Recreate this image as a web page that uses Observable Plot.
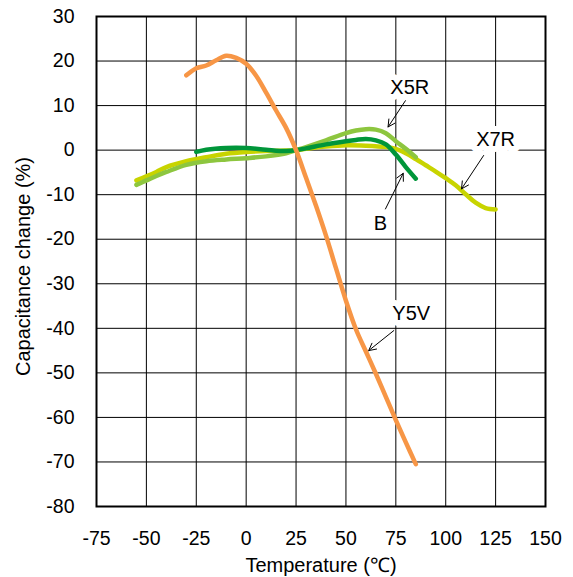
<!DOCTYPE html>
<html>
<head>
<meta charset="utf-8">
<script src="https://cdn.jsdelivr.net/npm/d3@7"></script>
<script src="https://cdn.jsdelivr.net/npm/@observablehq/plot@0.6"></script>
<style>
html, body { margin: 0; padding: 0; background: #fff; }
</style>
</head>
<body>
<div id="chart"></div>
<script>
// Axis ticks
const xTicks = [-75, -50, -25, 0, 25, 50, 75, 100, 125, 150];
const yTicks = [-80, -70, -60, -50, -40, -30, -20, -10, 0, 10, 20, 30];

// Series: temperature (°C) and capacitance change (%)
const x7rTemp = [-55, -50, -45, -40, -30, -20, -10, 0, 10, 20, 25, 30, 40, 50, 60, 70, 75, 80, 85, 90, 95, 100, 105, 110, 115, 120, 125];
const x7rCap  = [-6.8, -5.9, -4.9, -3.8, -2.5, -1.6, -0.8, -0.4, -0.2, -0.1, 0, 0.3, 0.8, 1.1, 1.0, 0.7, 0.3, -0.7, -2.0, -3.4, -4.8, -6.3, -7.9, -9.9, -11.8, -13.0, -13.3];

const x5rTemp = [-55, -50, -45, -40, -30, -20, -10, 0, 10, 20, 25, 30, 40, 50, 55, 60, 65, 70, 75, 80, 85];
const x5rCap  = [-7.8, -6.8, -5.8, -4.9, -3.3, -2.5, -2.1, -1.8, -1.4, -0.7, 0, 0.7, 2.2, 3.8, 4.4, 4.7, 4.6, 3.8, 2.0, 0.3, -1.6];

const bTemp = [-25, -20, -10, 0, 10, 20, 25, 30, 40, 50, 55, 60, 65, 70, 75, 80, 85];
const bCap  = [-0.4, 0.1, 0.5, 0.5, 0.1, -0.2, 0, 0.4, 1.3, 2.0, 2.3, 2.5, 2.2, 1.3, -1.0, -3.8, -6.4];

const y5vTemp = [-30, -25, -20, -15, -10, -5, 0, 5, 10, 15, 20, 25, 30, 35, 40, 45, 50, 55, 60, 65, 70, 75, 80, 85];
const y5vCap  = [16.8, 18.4, 19.0, 20.2, 21.2, 20.7, 19.4, 16.7, 12.9, 8.9, 5.0, 0, -6.2, -12.5, -19.2, -26.5, -33.8, -40.2, -45.2, -50.2, -55.4, -60.6, -65.6, -70.5];

// Series names and colours (drawing order)
const seriesNames  = ["X7R", "X5R", "B", "Y5V"];
const seriesColors = ["#C8D400", "#8DC63F", "#00963A", "#F79646"];

// Annotation labels (text centre) and arrows (from -> tip), in data units
const labelText  = ["X5R", "X7R", "B", "Y5V"];
const labelTemp  = [82, 125, 67.3, 82.7];
const labelCap   = [14.1, 2.3, -16.4, -36.7];
const arrowFromT = [79.8, 119, 69.8, 74];
const arrowFromC = [11.1, -1.2, -13.2, -40.5];
const arrowToT   = [71.1, 107.9, 78.7, 61.4];
const arrowToC   = [5.2, -8.7, -5.2, -45];

// Build tables
const seriesTemps = [x7rTemp, x5rTemp, bTemp, y5vTemp];
const seriesCaps  = [x7rCap, x5rCap, bCap, y5vCap];
const rows = [];
seriesNames.forEach((name, i) => {
  seriesTemps[i].forEach((t, j) => rows.push({series: name, temp: t, cap: seriesCaps[i][j]}));
});
const labels = labelText.map((t, i) => ({text: t, temp: labelTemp[i], cap: labelCap[i]}));
const arrows = labelText.map((t, i) => ({x1: arrowFromT[i], y1: arrowFromC[i], x2: arrowToT[i], y2: arrowToC[i]}));

const fmt = d => String(d);

const chart = Plot.plot({
  width: 573,
  height: 577,
  marginLeft: 96,
  marginRight: 28,
  marginTop: 16,
  marginBottom: 71,
  style: {
    fontFamily: "'Liberation Sans', Arial, sans-serif",
    fontSize: "19.5px",
    background: "#fff",
    color: "#000",
    overflow: "visible"
  },
  x: {domain: [-75, 150], label: null},
  y: {domain: [-80, 30], label: null},
  color: {domain: seriesNames, range: seriesColors},
  marks: [
    Plot.gridX(xTicks, {stroke: "#000", strokeOpacity: 1, strokeWidth: 1}),
    Plot.gridY(yTicks, {stroke: "#000", strokeOpacity: 1, strokeWidth: 1}),
    Plot.line(rows, {x: "temp", y: "cap", z: "series", stroke: "series", strokeWidth: 4.5, curve: "catmull-rom", strokeLinecap: "round", strokeLinejoin: "round"}),
    Plot.arrow(arrows, {x1: "x1", y1: "y1", x2: "x2", y2: "y2", stroke: "#000", strokeWidth: 1, headLength: 12, headAngle: 55}),
    Plot.text(labels, {x: "temp", y: "cap", text: "text", fontSize: 20, fill: "#000", stroke: "#fff", strokeWidth: 12, strokeLinejoin: "round"}),
    Plot.frame({stroke: "#000", strokeWidth: 2}),
    Plot.axisX(xTicks, {tickSize: 0, tickPadding: 25, fontSize: 19.5, tickFormat: fmt}),
    Plot.axisY(yTicks, {tickSize: 0, tickPadding: 22, fontSize: 19.5, tickFormat: fmt}),
    Plot.text(["Temperature (℃)"], {frameAnchor: "bottom", dy: 59, lineAnchor: "middle", textAnchor: "middle", fontSize: 20, fill: "#000"}),
    Plot.text(["Capacitance change (%)"], {frameAnchor: "left", dx: -73, dy: 5, rotate: -90, lineAnchor: "middle", textAnchor: "middle", fontSize: 20, fill: "#000"})
  ]
});
document.getElementById("chart").appendChild(chart);
</script>
</body>
</html>
